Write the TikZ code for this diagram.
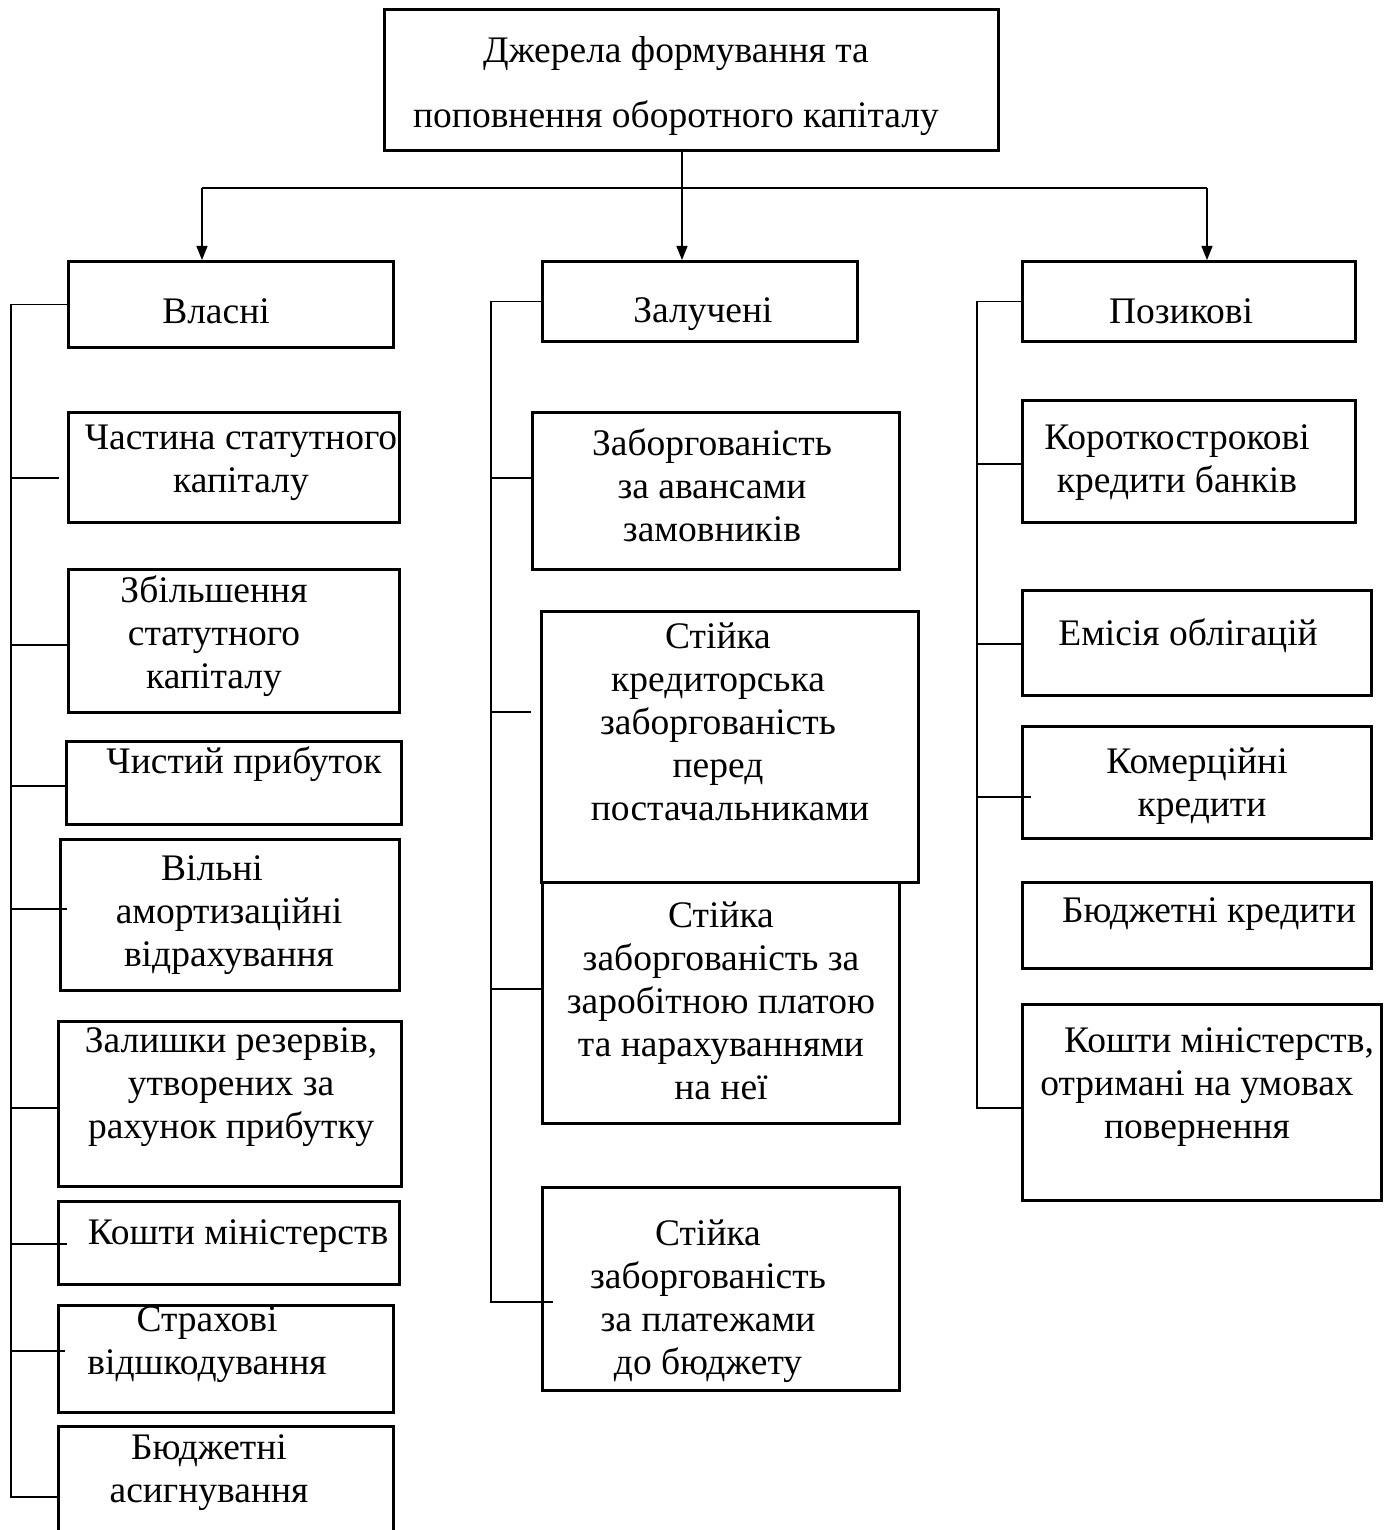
\documentclass[tikz,border=0pt]{standalone}
\usepackage{fontspec}
\setmainfont{Liberation Serif}
\usetikzlibrary{arrows.meta}
\begin{document}
\begin{tikzpicture}[x=1pt,y=1pt,
  box/.style={draw=black, line width=3pt, anchor=north west, inner sep=0pt, fill=white},
  txt/.style={align=center, inner sep=0pt, yshift=-4pt, font=\fontsize{37.5}{43}\selectfont},
  conn/.style={draw=black, line width=1.3pt},
  arr/.style={conn, -{Triangle[length=14pt,width=11pt]}}]
\useasboundingbox (0,0) rectangle (1389,-1530);
\begin{scope}
\clip (0,0) rectangle (1389,-1530);
% boxes
\node[box, minimum width=614, minimum height=141] (top) at (383,-8) {};
\node[box, minimum width=325, minimum height=86] (vl) at (67,-260) {};
\node[box, minimum width=315, minimum height=80] (zl) at (541,-260) {};
\node[box, minimum width=333, minimum height=80] (pk) at (1021,-260) {};
\node[box, minimum width=331, minimum height=110] (l1) at (67,-411) {};
\node[box, minimum width=331, minimum height=143] (l2) at (67,-568) {};
\node[box, minimum width=335, minimum height=83] (l3) at (65,-740) {};
\node[box, minimum width=339, minimum height=151] (l4) at (59,-838) {};
\node[box, minimum width=343, minimum height=165] (l5) at (57,-1020) {};
\node[box, minimum width=341, minimum height=83] (l6) at (57,-1200) {};
\node[box, minimum width=335, minimum height=107] (l7) at (57,-1304) {};
\node[box, minimum width=335, minimum height=145] (l8) at (57,-1425) {};
\node[box, minimum width=367, minimum height=157] (m1) at (531,-411) {};
\node[box, minimum width=357, minimum height=241] (m3) at (541,-881) {};
\node[box, minimum width=377, minimum height=271] (m2) at (540,-610) {};
\node[box, minimum width=357, minimum height=203] (m4) at (541,-1186) {};
\node[box, minimum width=333, minimum height=122] (r1) at (1021,-399) {};
\node[box, minimum width=349, minimum height=105] (r2) at (1021,-589) {};
\node[box, minimum width=349, minimum height=112] (r3) at (1021,-725) {};
\node[box, minimum width=349, minimum height=86] (r4) at (1021,-881) {};
\node[box, minimum width=359, minimum height=196] (r5) at (1021,-1003) {};
% texts
\node[txt, font=\fontsize{37.5}{65}\selectfont] (ttop) at (676,-82) {Джерела формування та\\поповнення оборотного капіталу};
\node[txt] (tvl) at (216,-307) {Власні};
\node[txt, yshift=-3pt] (tzl) at (703,-307) {Залучені};
\node[txt] (tpk) at (1181,-307) {Позикові};
\node[txt] (tl1) at (241,-459) {Частина статутного\\капіталу};
\node[txt] (tl2) at (214,-632) {Збільшення\\статутного\\капіталу};
\node[txt] (tl3) at (244,-760) {Чистий прибуток};
\node[txt] (tl4) at (229,-911) {Вільні\hspace*{34pt}\\амортизаційні\\відрахування};
\node[txt] (tl5) at (231,-1083) {Залишки резервів,\\утворених за\\рахунок прибутку};
\node[txt] (tl6) at (238,-1232) {Кошти міністерств};
\node[txt] (tl7) at (207,-1341) {Страхові\\відшкодування};
\node[txt] (tl8) at (209,-1469) {Бюджетні\\асигнування};
\node[txt] (tm1) at (712,-481) {Заборгованість\\за авансами\\замовників};
\node[txt] (tm2) at (718,-718) {Стійка\\кредиторська\\заборгованість\\перед\\\hspace*{24pt}постачальниками};
\node[txt] (tm3) at (721,-997) {Стійка\\заборгованість за\\заробітною платою\\та нарахуваннями\\на неї};
\node[txt] (tm4) at (708,-1297) {Стійка\\заборгованість\\за платежами\\до бюджету};
\node[txt] (tr1) at (1177,-459) {Короткострокові\\кредити банків};
\node[txt] (tr2) at (1188,-632) {Емісія облігацій};
\node[txt] (tr3) at (1202,-782) {Комерційні\hspace*{10pt}\\кредити};
\node[txt] (tr4) at (1209,-910) {Бюджетні кредити};
\node[txt] (tr5) at (1197,-1083) {\hspace*{44pt}Кошти міністерств,\\отримані на умовах\\повернення};
% top connectors
\coordinate (c0) at (682,-149);
\coordinate (hl) at (202,-188);
\coordinate (hr) at (1207,-188);
\draw[arr] (c0) -- (c0 |- zl.north);
\draw[conn] (hl) -- (hr);
\draw[arr] (hl) -- (hl |- vl.north);
\draw[arr] (hr) -- (hr |- pk.north);
% left spine
\coordinate (lsp) at (11,-1497);
\coordinate (lb8) at (57,-1497);
\draw[conn] (vl.west) -| (lsp) -- (lb8);
\coordinate (lb1) at (59,-478);
\coordinate (lb2) at (67,-645);
\coordinate (lb3) at (67,-786);
\coordinate (lb4) at (67,-909);
\coordinate (lb5) at (57,-1108);
\coordinate (lb6) at (67,-1244);
\coordinate (lb7) at (65,-1351);
\foreach \b in {lb1,lb2,lb3,lb4,lb5,lb6,lb7}{\draw[conn] (\b -| lsp) -- (\b);}
% middle spine
\coordinate (msp) at (491,-1302);
\coordinate (mb4) at (553,-1302);
\draw[conn] (zl.west) -| (msp) -- (mb4);
\coordinate (mb1) at (531,-478);
\coordinate (mb2) at (531,-712);
\coordinate (mb3) at (541,-989);
\foreach \b in {mb1,mb2,mb3}{\draw[conn] (\b -| msp) -- (\b);}
% right spine
\coordinate (rsp) at (977,-1108);
\coordinate (rb5) at (1021,-1108);
\draw[conn] (pk.west) -| (rsp) -- (rb5);
\coordinate (rb1) at (1021,-464);
\coordinate (rb2) at (1021,-644);
\coordinate (rb3) at (1031,-797);
\foreach \b in {rb1,rb2,rb3}{\draw[conn] (\b -| rsp) -- (\b);}
\end{scope}
\end{tikzpicture}
\end{document}
